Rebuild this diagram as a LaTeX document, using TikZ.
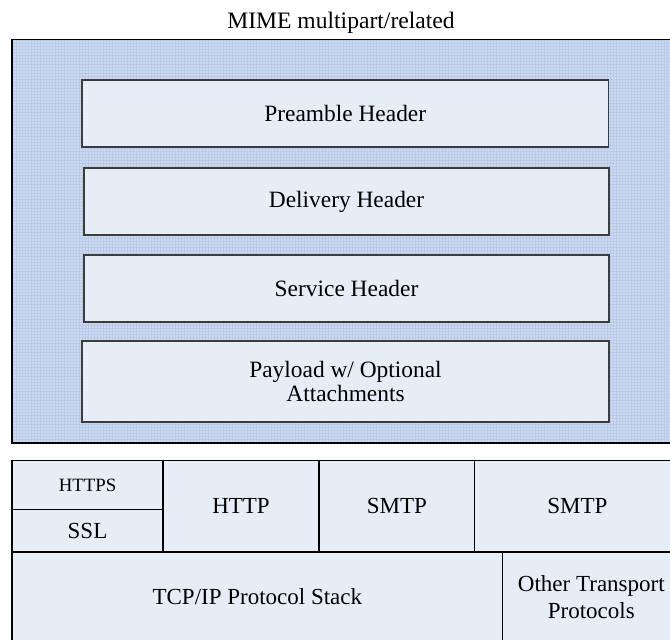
\documentclass[tikz,border=0pt]{standalone}
\usepackage{fontspec}
\setmainfont{Liberation Serif}
\usetikzlibrary{patterns.meta}
\definecolor{dotblue}{HTML}{B7CAE8}
\definecolor{dotlight}{HTML}{E3EAF6}
\definecolor{boxfill}{HTML}{E7EDF7}
\definecolor{boxline}{HTML}{3C3C3C}
\tikzset{
  mimebox/.style={draw=black, line width=0.6pt, fill=dotblue, inner sep=0pt, outer sep=0pt},
  hdrbox/.style={draw=boxline, line width=0.75pt, fill=boxfill, inner sep=0pt, outer sep=0pt,
    align=center, font=\fontsize{11.7}{12.3}\selectfont},
  cellbox/.style={draw=black, line width=0.55pt, fill=boxfill, inner sep=0pt, outer sep=0pt,
    align=center, font=\fontsize{11.5}{13.3}\selectfont},
  titletext/.style={font=\fontsize{11.8}{13}\selectfont, inner sep=0pt}
}
\begin{document}
\begin{tikzpicture}[x=0.5pt,y=-0.5pt]
\useasboundingbox (0,0) rectangle (670,639);
\clip (0,0) rectangle (670,639);
\fill[white] (0,0) rectangle (670,639);
% title
\node[titletext, anchor=base] (title) at (341,28) {MIME multipart/related};
% big MIME box
\node[mimebox, minimum width=339pt, minimum height=201.75pt] (mime) at (351,241.25) {};
\fill[pattern={Dots[distance=1.5pt,radius=0.42pt]}, pattern color=dotlight]
  (mime.north west) rectangle (mime.south east);
\draw[black, line width=0.6pt] (mime.north west) rectangle (mime.south east);
% header boxes
\node[hdrbox, minimum width=263.25pt, minimum height=33.5pt] (pre) at (345.25,113.5) {Preamble Header};
\node[hdrbox, minimum width=262.5pt, minimum height=33.5pt] (del) at (346.5,201.5) {Delivery Header};
\node[hdrbox, minimum width=262.5pt, minimum height=33.5pt] (svc) at (346.5,288.5) {Service Header};
\node[hdrbox, minimum width=263.5pt, minimum height=40.5pt] (pay) at (345.5,381.5) {Payload w/ Optional\\Attachments};
% protocol table
\node[cellbox, minimum width=75.5pt, minimum height=24.4pt, font=\fontsize{9.4}{11}\selectfont] (https) at (87.5,484.9) {HTTPS};
\node[cellbox, minimum width=75.5pt, minimum height=21.35pt] (ssl) at (87.5,530.65) {SSL};
\node[cellbox, minimum width=78pt, minimum height=45.75pt] (http) at (241,506.25) {HTTP};
\node[cellbox, minimum width=77.85pt, minimum height=45.75pt] (smtpa) at (396.85,506.25) {SMTP};
\node[cellbox, minimum width=102.65pt, minimum height=45.75pt] (smtpb) at (577.35,506.25) {SMTP};
\node[cellbox, minimum width=245.35pt, minimum height=45pt] (tcp) at (257.35,597) {TCP/IP Protocol Stack};
\node[cellbox, minimum width=88.65pt, minimum height=45pt] (other) at (591.35,597) {Other Transport\\Protocols};
\end{tikzpicture}
\end{document}
